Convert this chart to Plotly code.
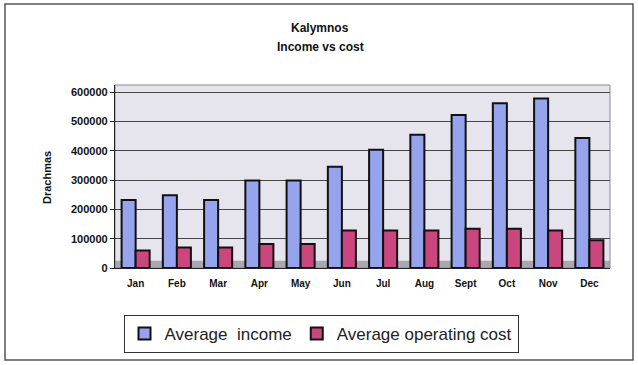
import plotly.graph_objects as go

months = ["Jan", "Feb", "Mar", "Apr", "May", "Jun", "Jul", "Aug", "Sept", "Oct", "Nov", "Dec"]
avg_income = [232000, 248000, 232000, 298000, 298000, 345000, 403000, 454000, 522000, 562000, 578000, 443000]
avg_cost = [60000, 70000, 70000, 82000, 82000, 128000, 128000, 128000, 134000, 134000, 128000, 95000]
y_ticks = [0, 100000, 200000, 300000, 400000, 500000, 600000]

W, H = 638, 365
ML, MR, MT, MB = 115, 28, 85, 97
PW, PH = W - ML - MR, H - MT - MB

def px_x(p):
    return (p - ML) / PW

def px_y(p):
    return (H - MB - p) / PH

fig = go.Figure()
fig.add_trace(go.Bar(
    x=months, y=avg_income, name="Average  income",
    marker=dict(color="#96a4ee", line=dict(color="#111111", width=2)),
))
fig.add_trace(go.Bar(
    x=months, y=avg_cost, name="Average operating cost",
    marker=dict(color="#c9467f", line=dict(color="#111111", width=2)),
))

shapes = [
    # floor band
    dict(type="rect", xref="x domain", yref="y domain", x0=0, x1=1, y0=0, y1=0.04,
         fillcolor="#aaa7ae", line=dict(width=0), layer="below"),
    # plot area border
    dict(type="rect", xref="x domain", yref="y domain", x0=0, x1=1, y0=0, y1=1,
         line=dict(color="#8a8a8a", width=1), layer="below"),
    # outer chart frame
    dict(type="rect", xref="paper", yref="paper",
         x0=px_x(5), x1=px_x(633), y0=px_y(360), y1=px_y(4),
         line=dict(color="#555555", width=1.5)),
]

tf = dict(family="Arial, Liberation Sans", size=12, color="#111111", weight="bold")
annotations = [
    dict(text="Kalymnos", xref="paper", yref="paper", x=px_x(320), y=px_y(28),
         showarrow=False, font=tf, xanchor="center", yanchor="middle"),
    dict(text="Income vs cost", xref="paper", yref="paper", x=px_x(320), y=px_y(47),
         showarrow=False, font=tf, xanchor="center", yanchor="middle"),
    dict(text="Drachmas", xref="paper", yref="paper", x=px_x(47), y=px_y(178),
         showarrow=False, textangle=-90,
         font=dict(size=11, color="#111111", family="Arial, Liberation Sans", weight="bold"),
         xanchor="center", yanchor="middle"),
]

ytick_font = dict(size=11, color="#111111", family="Arial, Liberation Sans", weight="bold")
xtick_font = dict(size=10, color="#111111", family="Arial, Liberation Sans", weight="bold")

fig.update_layout(
    width=W, height=H,
    margin=dict(l=ML, r=MR, t=MT, b=MB, pad=0),
    paper_bgcolor="white",
    plot_bgcolor="#e6e4ec",
    barmode="group",
    bargap=0.32,
    bargroupgap=0.0,
    font=dict(family="Arial, Liberation Sans", color="#111111"),
    showlegend=True,
    legend=dict(
        orientation="h", x=px_x(321), xanchor="center", y=px_y(334), yanchor="middle",
        bordercolor="#333333", borderwidth=1, bgcolor="white",
        font=dict(size=17, color="#222222", family="Arial, Liberation Sans"),
        itemwidth=30, tracegroupgap=0,
    ),
    shapes=shapes,
    annotations=annotations,
    xaxis=dict(
        showgrid=False, showline=True, linecolor="#222222", linewidth=1.2,
        tickfont=xtick_font, ticks="", ticklabelstandoff=6,
    ),
    yaxis=dict(
        range=[0, 624000], tickvals=y_ticks, ticktext=[str(v) for v in y_ticks],
        showgrid=True, gridcolor="#444444", gridwidth=1,
        showline=True, linecolor="#222222", linewidth=1.2,
        ticks="outside", ticklen=4, tickcolor="#222222",
        tickfont=ytick_font, zeroline=False,
    ),
)

fig.write_html("out.html", config={"displayModeBar": False},
               post_script="document.body.style.margin='0';")
